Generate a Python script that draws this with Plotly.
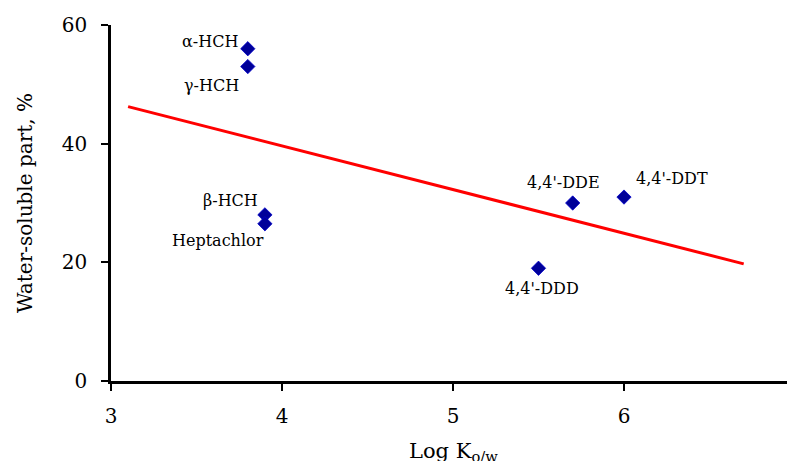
import numpy as np
import plotly.graph_objects as go

# Data
compounds = ["α-HCH", "γ-HCH", "β-HCH", "Heptachlor", "4,4'-DDE", "4,4'-DDT", "4,4'-DDD"]
log_kow = [3.8, 3.8, 3.9, 3.9, 5.7, 6.0, 5.5]
water_soluble = [56, 53, 28, 26.5, 30, 31, 19]
trend_x_range = [3.1, 6.7]
x_ticks = [3, 4, 5, 6, 7]
y_ticks = [0, 20, 40, 60]

# label offsets in pixels (style)
label_shifts = {
    "α-HCH": (-38, 7),
    "γ-HCH": (-36, -19),
    "β-HCH": (-34, 14),
    "Heptachlor": (-47, -17),
    "4,4'-DDE": (-9, 21),
    "4,4'-DDT": (48, 19),
    "4,4'-DDD": (3, -20),
}

slope, intercept = np.polyfit(log_kow, water_soluble, 1)
tx = np.array(trend_x_range)
ty = slope * tx + intercept

FONT = "DejaVu Serif"

fig = go.Figure()
fig.add_trace(go.Scatter(x=tx, y=ty, mode="lines",
                         line=dict(color="#FF0000", width=3), hoverinfo="skip"))
fig.add_trace(go.Scatter(x=log_kow, y=water_soluble, mode="markers",
                         marker=dict(symbol="diamond", size=11, color="#000099",
                                     line=dict(width=0.8, color="#0000CC"))))

for name, x, y in zip(compounds, log_kow, water_soluble):
    dx, dy = label_shifts[name]
    fig.add_annotation(x=x, y=y, text=name, showarrow=False,
                       xshift=dx, yshift=dy,
                       font=dict(family=FONT, size=16, color="black"))

# x-axis title placed as a paper annotation so it sits like the reference
fig.add_annotation(xref="paper", yref="paper", x=0.5, y=0, yanchor="top",
                   yshift=-56, showarrow=False, text="Log K<sub>o/w</sub>",
                   font=dict(family=FONT, size=21, color="black"))

fig.update_layout(
    width=787, height=453,
    margin=dict(l=103, r=0, t=17, b=80, autoexpand=False),
    plot_bgcolor="white", paper_bgcolor="white",
    showlegend=False,
    font=dict(family=FONT, color="black"),
    xaxis=dict(range=[3, 7], tickvals=x_ticks, ticktext=[str(v) for v in x_ticks],
               showgrid=False, zeroline=False, showline=True, linecolor="black",
               linewidth=2.5, ticks="outside", ticklen=7, tickwidth=2, tickcolor="black",
               tickfont=dict(family=FONT, size=20), automargin=False,
               ticklabelstandoff=8, ticklabeloverflow="allow"),
    yaxis=dict(range=[0, 60], tickvals=y_ticks, ticktext=[str(v) for v in y_ticks],
               showgrid=False, zeroline=False, showline=True, linecolor="black",
               linewidth=2.5, ticks="outside", ticklen=7, tickwidth=2, tickcolor="black",
               tickfont=dict(family=FONT, size=20), automargin=False,
               ticklabelstandoff=10,
               title=dict(text="Water-soluble part, %", font=dict(family=FONT, size=20),
                          standoff=24)),
)

fig.write_html("out.html")
